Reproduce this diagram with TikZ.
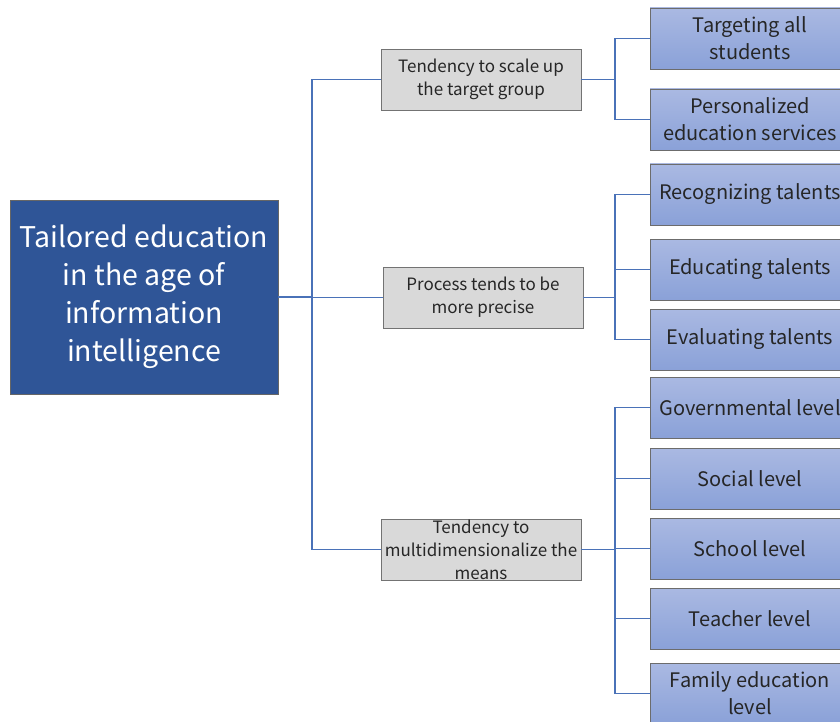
\documentclass[tikz,border=0pt]{standalone}
\usepackage{fontspec}
\setmainfont{Noto Sans CJK SC}
\definecolor{deepblue}{HTML}{2F5597}
\definecolor{linkblue}{HTML}{4A72B8}
\definecolor{itemtop}{HTML}{AAB9E2}
\definecolor{itembot}{HTML}{8AA1D8}
\definecolor{trendgray}{HTML}{D9D9D9}

\begin{document}
\begin{tikzpicture}[x=1pt,y=-1pt,
  mainbox/.style={draw=gray!80!black, fill=deepblue, text=white, align=center,
    minimum width=268pt, minimum height=194pt, inner sep=0pt,
    font=\fontsize{28.5}{38}\selectfont},
  trendbox/.style={draw=gray!90!black, fill=trendgray, text=black!85, align=center,
    minimum width=200pt, minimum height=61pt, inner sep=0pt,
    font=\fontsize{17}{23}\selectfont},
  itembox/.style={draw=gray!85!black, top color=itemtop, bottom color=itembot,
    text=black!85, align=center, minimum width=200pt, minimum height=61pt,
    inner sep=0pt, font=\fontsize{20}{27}\selectfont},
  link/.style={draw=linkblue, line width=1.6pt}]
\useasboundingbox (0,0) rectangle (840,722);
%% root
\node[mainbox] (root) at (144,297) {Tailored education\\in the age of\\information\\intelligence};
%% trends
\node[trendbox] (scale) at (481,79.5) {Tendency to scale up\\the target group};
\node[trendbox] (precise) at (483,297.5) {Process tends to be\\more precise};
\node[trendbox] (means) at (481,549.5) {Tendency to\\multidimensionalize the\\means};
%% items
\node[itembox] (all) at (750,38.5) {Targeting all\\students};
\node[itembox] (personal) at (750,119.5) {Personalized\\education services};
\node[itembox] (recog) at (750,194.5) {Recognizing talents};
\node[itembox] (educ) at (750,269.5) {Educating talents};
\node[itembox] (eval) at (750,339.5) {Evaluating talents};
\node[itembox] (gov) at (750,407.5) {Governmental level};
\node[itembox] (social) at (750,478.5) {Social level};
\node[itembox] (school) at (750,548.5) {School level};
\node[itembox] (teacher) at (750,618.5) {Teacher level};
\node[itembox] (family) at (750,693.5) {Family education\\level};
%% branch points
\coordinate (trunk) at (312,297);
\coordinate (fork1) at (615,79.5);
\coordinate (fork2) at (615,297.5);
\coordinate (fork3) at (615,549.5);
%% connectors
\draw[link] (root.east) -- (trunk);
\foreach \t in {scale,precise,means}
  \draw[link] (trunk) |- (\t.west);
\draw[link] (scale.east) -- (fork1);
\foreach \i in {all,personal}
  \draw[link] (fork1) |- (\i.west);
\draw[link] (precise.east) -- (fork2);
\foreach \i in {recog,educ,eval}
  \draw[link] (fork2) |- (\i.west);
\draw[link] (means.east) -- (fork3);
\foreach \i in {gov,social,school,teacher,family}
  \draw[link] (fork3) |- (\i.west);
\end{tikzpicture}
\end{document}
